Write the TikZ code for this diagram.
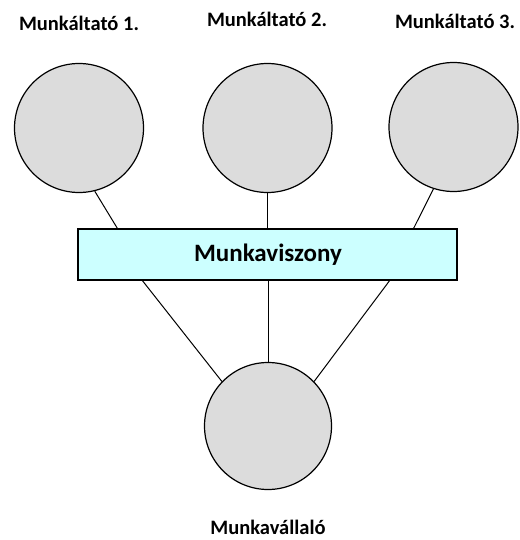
\documentclass[tikz,border=0pt]{standalone}
\usepackage{fontspec}
\setmainfont{Carlito}
\begin{document}
\begin{tikzpicture}[x=1pt,y=-1pt,
  party/.style={circle,draw=black,line width=1.2pt,fill=partygray,minimum size=129pt,inner sep=0pt},
  relbox/.style={rectangle,draw=black,line width=1.2pt,fill=relcyan,minimum width=379pt,minimum height=51pt,inner sep=0pt},
  caption/.style={font=\bfseries\fontsize{20.5}{24}\selectfont,inner sep=0pt},
  link/.style={draw=black,line width=1pt}]
\definecolor{partygray}{HTML}{DCDCDC}
\definecolor{relcyan}{HTML}{CCFFFF}
\useasboundingbox (0,0) rectangle (519,540);
% employers
\node[party] (c1) at (79,128) {};
\node[party] (c2) at (267.5,128) {};
\node[party] (c3) at (453.5,127) {};
% employment relationship
\node[relbox] (r) at (267.5,254.5) {};
\node[font=\bfseries\fontsize{25}{28}\selectfont] (rt) at (268,255) {Munkaviszony};
% employee
\node[party,minimum size=127pt] (e) at (268,426) {};
% captions
\node[caption] (l1) at (79,23) {Munkáltató 1.};
\node[caption] (l2) at (267,19) {Munkáltató 2.};
\node[caption] (l3) at (455,21) {Munkáltató 3.};
\node[caption] (l4) at (268,527) {Munkavállaló};
% connectors
\draw[link] (c1.-76) -- ([xshift=40pt]r.north west);
\draw[link] (c2.south) -- (c2.south |- r.north);
\draw[link] (c3.-108) -- ([xshift=-44pt]r.north east);
\draw[link] ([xshift=65pt]r.south west) -- (e.136);
\draw[link] (e.north |- r.south) -- (e.north);
\draw[link] ([xshift=-68pt]r.south east) -- (e.44);
\end{tikzpicture}
\end{document}
